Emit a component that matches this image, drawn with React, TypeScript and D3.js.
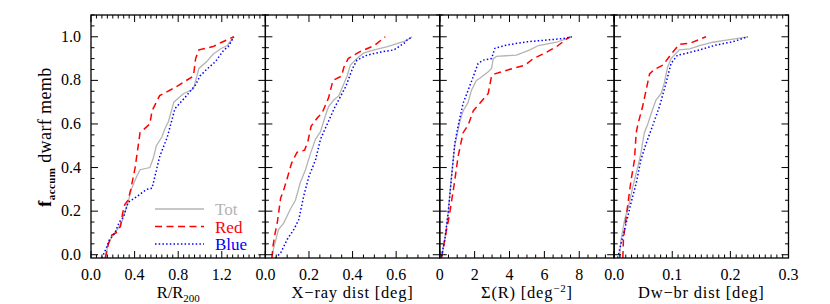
import React from "react";
import * as d3 from "d3";

// cumulative fraction of dwarf members vs four different variables
const radTot = [[0.14,-0.015],[0.15,0.04],[0.19,0.08],[0.24,0.115],[0.28,0.145],[0.30,0.18],[0.34,0.24],[0.37,0.30],[0.42,0.36],[0.45,0.39],[0.54,0.40],[0.57,0.44],[0.60,0.50],[0.65,0.54],[0.68,0.58],[0.71,0.61],[0.76,0.70],[0.85,0.74],[0.94,0.76],[0.99,0.855],[1.06,0.885],[1.12,0.92],[1.19,0.945],[1.25,0.96],[1.31,1.0]];
const radRed = [[0.13,-0.015],[0.16,0.05],[0.19,0.09],[0.23,0.10],[0.27,0.13],[0.29,0.19],[0.31,0.23],[0.34,0.25],[0.365,0.30],[0.405,0.40],[0.45,0.56],[0.54,0.60],[0.56,0.66],[0.63,0.73],[0.78,0.77],[0.94,0.82],[0.96,0.90],[0.99,0.94],[1.12,0.955],[1.20,0.975],[1.31,1.0]];
const radBlue = [[0.10,-0.015],[0.14,0.03],[0.17,0.07],[0.22,0.10],[0.26,0.15],[0.30,0.175],[0.34,0.24],[0.43,0.27],[0.51,0.30],[0.56,0.305],[0.63,0.45],[0.70,0.54],[0.77,0.67],[0.86,0.72],[0.96,0.78],[1.0,0.82],[1.06,0.85],[1.14,0.885],[1.22,0.94],[1.26,0.955],[1.31,1.0]];

const xrayTot = [[0.03,-0.015],[0.038,0.03],[0.06,0.115],[0.084,0.145],[0.115,0.21],[0.138,0.25],[0.16,0.33],[0.184,0.39],[0.207,0.465],[0.23,0.53],[0.253,0.565],[0.276,0.64],[0.29,0.68],[0.314,0.71],[0.337,0.73],[0.375,0.82],[0.39,0.87],[0.42,0.90],[0.45,0.925],[0.50,0.94],[0.56,0.955],[0.64,0.98],[0.674,1.0]];
const xrayRed = [[0.03,-0.015],[0.035,0.04],[0.045,0.1],[0.055,0.15],[0.07,0.26],[0.085,0.30],[0.10,0.35],[0.12,0.42],[0.145,0.47],[0.18,0.48],[0.195,0.52],[0.21,0.59],[0.24,0.63],[0.26,0.65],[0.29,0.72],[0.31,0.80],[0.35,0.82],[0.36,0.86],[0.38,0.90],[0.43,0.93],[0.50,0.96],[0.55,1.0]];
const xrayBlue = [[0.046,-0.015],[0.07,0.008],[0.10,0.07],[0.13,0.115],[0.153,0.16],[0.176,0.27],[0.20,0.36],[0.23,0.435],[0.253,0.53],[0.284,0.60],[0.32,0.68],[0.368,0.77],[0.40,0.855],[0.42,0.893],[0.467,0.916],[0.53,0.93],[0.59,0.94],[0.636,0.97],[0.65,0.985],[0.674,1.0]];

const sigTot = [[0.1,-0.015],[0.29,0.07],[0.48,0.19],[0.67,0.36],[0.86,0.5],[1.15,0.61],[1.34,0.66],[1.63,0.70],[1.82,0.755],[2.1,0.80],[2.3,0.81],[2.78,0.84],[2.97,0.855],[3.07,0.90],[3.26,0.91],[4.4,0.916],[5.17,0.94],[5.65,0.96],[6.7,0.975],[7.57,1.0]];
const sigRed = [[0.1,-0.015],[0.29,0.07],[0.57,0.19],[0.86,0.34],[1.05,0.45],[1.34,0.56],[1.63,0.595],[1.92,0.66],[2.3,0.695],[2.78,0.74],[2.97,0.82],[3.16,0.83],[4.2,0.855],[4.9,0.87],[5.36,0.90],[6.03,0.925],[6.7,0.955],[7.28,0.99],[7.47,1.0]];
const sigBlue = [[0.1,-0.008],[0.29,0.07],[0.48,0.19],[0.67,0.35],[0.86,0.51],[1.05,0.59],[1.34,0.695],[1.63,0.755],[1.92,0.817],[2.2,0.878],[2.5,0.893],[2.97,0.90],[3.16,0.947],[3.83,0.962],[4.98,0.977],[6.13,0.985],[7.09,0.992],[7.57,1.0]];

const dwTot = [[0.009,-0.015],[0.012,0.07],[0.018,0.16],[0.026,0.235],[0.032,0.31],[0.041,0.405],[0.046,0.465],[0.052,0.56],[0.058,0.60],[0.064,0.65],[0.072,0.71],[0.081,0.74],[0.086,0.785],[0.092,0.86],[0.098,0.90],[0.112,0.94],[0.13,0.945],[0.147,0.96],[0.17,0.975],[0.193,0.985],[0.23,1.0]];
const dwRed = [[0.015,-0.015],[0.016,0.07],[0.018,0.115],[0.023,0.22],[0.029,0.34],[0.035,0.435],[0.038,0.56],[0.041,0.60],[0.049,0.68],[0.061,0.83],[0.069,0.85],[0.084,0.87],[0.098,0.92],[0.112,0.965],[0.13,0.97],[0.158,1.0]];
const dwBlue = [[0.006,-0.015],[0.012,0.053],[0.018,0.115],[0.029,0.237],[0.038,0.328],[0.046,0.435],[0.055,0.51],[0.066,0.59],[0.078,0.68],[0.089,0.785],[0.098,0.878],[0.109,0.916],[0.124,0.924],[0.147,0.94],[0.175,0.962],[0.204,0.977],[0.23,1.0]];

const yTicks = [0, 0.2, 0.4, 0.6, 0.8, 1.0];
const seriesNames = ["Tot", "Red", "Blue"];

const panels = [
  { domain: [0, 1.6], ticks: [0, 0.4, 0.8, 1.2], minor: 0.05, fmt: ".1f", series: [radTot, radRed, radBlue] },
  { domain: [0, 0.8], ticks: [0, 0.2, 0.4, 0.6], minor: 0.05, fmt: ".1f", series: [xrayTot, xrayRed, xrayBlue] },
  { domain: [0, 10], ticks: [0, 2, 4, 6, 8], minor: 0.5, fmt: "d", series: [sigTot, sigRed, sigBlue] },
  { domain: [0, 0.3], ticks: [0, 0.1, 0.2, 0.3], minor: 0.01, fmt: ".1f", series: [dwTot, dwRed, dwBlue] },
];

const styles = [
  { color: "#b4b4b4", dash: null, width: 1.3 },
  { color: "#ff0000", dash: "7,4.5", width: 1.5 },
  { color: "#0000ff", dash: "1.5,2.2", width: 1.5 },
];

const W = 830, H = 304;
const left = 91, right = 788.5, top = 15, bottom = 258;
const pw = (right - left) / 4;
const font = "Liberation Serif, Times New Roman, DejaVu Serif, serif";

const y = d3.scaleLinear().domain([-0.015, 1.1]).range([bottom, top]);

const XTitle = ({ i }) => {
  if (i === 0) return <>R/R<tspan fontSize="11" dy="4">200</tspan></>;
  if (i === 1) return <>X−ray dist [deg]</>;
  if (i === 2) return <>Σ(R) [deg<tspan fontSize="11" dy="-6">−2</tspan><tspan dy="6">]</tspan></>;
  return <>Dw−br dist [deg]</>;
};

export default function App() {
  const yMinor = d3.range(0, 1.1001, 0.05);
  return (
    <svg width={W} height={H} style={{ position: "absolute", left: 0, top: 0, background: "#fff", fontFamily: font }}>
      {panels.map((p, i) => {
        const x0 = left + i * pw;
        const x = d3.scaleLinear().domain(p.domain).range([x0, x0 + pw]);
        const line = d3.line().x((d) => x(d[0])).y((d) => y(d[1]));
        const minors = d3.range(p.domain[0], p.domain[1] + 1e-9, p.minor);
        const fmt = d3.format(p.fmt);
        return (
          <g key={i}>
            <clipPath id={"c" + i}><rect x={x0} y={top} width={pw} height={bottom - top} /></clipPath>
            <g clipPath={`url(#c${i})`}>
              {p.series.map((s, k) => (
                <path key={k} d={line(s)} fill="none" stroke={styles[k].color}
                  strokeWidth={styles[k].width} strokeDasharray={styles[k].dash || undefined} />
              ))}
            </g>
            {/* x ticks, top and bottom */}
            {minors.map((v, j) => {
              const major = p.ticks.some((t) => Math.abs(t - v) < 1e-9) || Math.abs(v - p.domain[1]) < 1e-9;
              const len = major ? 7 : 3.5;
              return (
                <g key={j} stroke="#000" strokeWidth={1}>
                  <line x1={x(v)} x2={x(v)} y1={bottom} y2={bottom - len} />
                  <line x1={x(v)} x2={x(v)} y1={top} y2={top + len} />
                </g>
              );
            })}
            {/* y ticks, both sides */}
            {yMinor.map((v, j) => {
              const major = yTicks.some((t) => Math.abs(t - v) < 1e-9);
              const len = major ? 7 : 3.5;
              return (
                <g key={"y" + j} stroke="#000" strokeWidth={1}>
                  <line x1={x0} x2={x0 + len} y1={y(v)} y2={y(v)} />
                  <line x1={x0 + pw} x2={x0 + pw - len} y1={y(v)} y2={y(v)} />
                </g>
              );
            })}
            <rect x={x0} y={top} width={pw} height={bottom - top} fill="none" stroke="#000" strokeWidth={1.3} />
            {p.ticks.map((t) => (
              <text key={t} x={x(t)} y={280} textAnchor="middle" fontSize={16}>{fmt(t)}</text>
            ))}
            <text x={x0 + pw / 2} y={298} textAnchor="middle" fontSize={16.5}
              letterSpacing={i === 0 ? 0 : 0.8}><XTitle i={i} /></text>
          </g>
        );
      })}
      {yTicks.map((t) => (
        <text key={t} x={81} y={y(t) + 5} textAnchor="end" fontSize={16}>{d3.format(".1f")(t)}</text>
      ))}
      <text transform={`translate(51,137) rotate(-90)`} textAnchor="middle" fontSize={18} letterSpacing={0.4}>
        <tspan fontWeight="bold">f</tspan><tspan fontSize={11} fontWeight="bold" dy={4}>accum</tspan><tspan dy={-4}> dwarf memb</tspan>
      </text>
      {seriesNames.map((n, k) => (
        <g key={n}>
          <line x1={155} x2={204} y1={209 + k * 17.5} y2={209 + k * 17.5} stroke={styles[k].color}
            strokeWidth={styles[k].width} strokeDasharray={styles[k].dash || undefined} />
          <text x={215} y={215 + k * 17.5} fontSize={17} fill={styles[k].color}>{n}</text>
        </g>
      ))}
    </svg>
  );
}
